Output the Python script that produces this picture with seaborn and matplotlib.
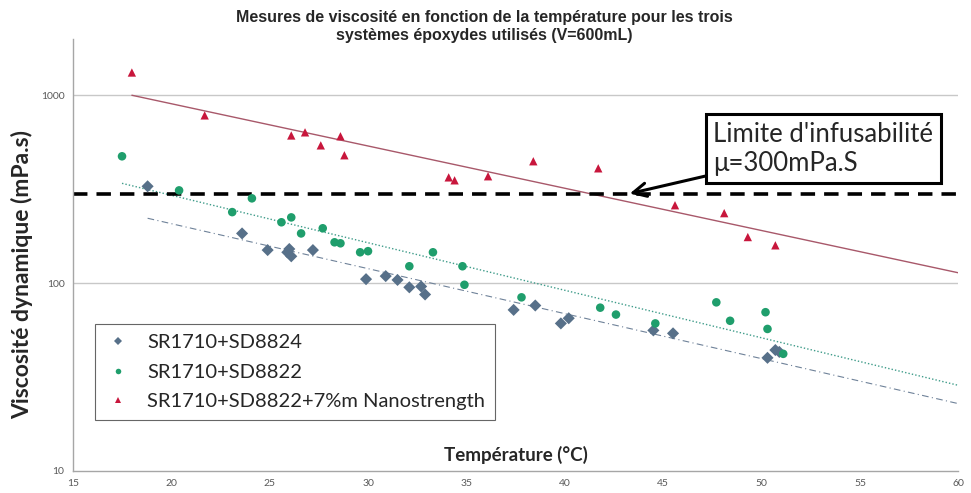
import numpy as np
import pandas as pd
import matplotlib
matplotlib.use("Agg")
import matplotlib.pyplot as plt
import seaborn as sns
from matplotlib.lines import Line2D

# =====================================
# DATA
# =====================================

t_8824 = [18.8, 23.6, 24.9, 25.9, 26.0, 26.1, 27.2, 29.9, 30.9, 31.5, 32.1,
          32.7, 32.9, 37.4, 38.5, 39.8, 40.2, 44.5, 45.5, 50.3, 50.7, 50.9]
v_8824 = [328, 184, 150, 146, 152, 139, 150, 105, 109, 104, 95,
          96, 87, 72, 76, 61, 65, 56, 54, 40, 44, 43]

t_8822 = [17.5, 20.4, 23.1, 24.1, 25.6, 26.1, 26.6, 27.7, 28.3, 28.6, 29.6,
          30.0, 32.1, 33.3, 34.8, 34.9, 37.8, 41.8, 42.6, 44.6, 47.7, 48.4,
          50.2, 50.3, 51.1]
v_8822 = [474, 312, 239, 283, 211, 224, 184, 196, 165, 163, 146,
          148, 123, 146, 123, 98, 84, 74, 68, 61, 79, 63,
          70, 57, 42]

t_nano = [18.0, 21.7, 26.1, 26.8, 27.6, 28.6, 28.8, 34.1, 34.4, 36.1, 38.4,
          41.7, 45.6, 48.1, 49.3, 50.7]
v_nano = [1325, 783, 612, 636, 542, 606, 480, 366, 353, 371, 446,
          409, 260, 236, 176, 159]

series_names = ["SR1710+SD8824", "SR1710+SD8822",
                "SR1710+SD8822+7%m Nanostrength"]

limit_value = 300
x_ticks = [15, 20, 25, 30, 35, 40, 45, 50, 55, 60]
y_ticks = [10, 100, 1000]

# =====================================
# STYLE
# =====================================

sns.set_style("white")
plt.rcParams["font.family"] = ["Lato", "DejaVu Sans"]

colors = {
    series_names[0]: "#577089",
    series_names[1]: "#1f9e6c",
    series_names[2]: "#c8163c",
}
markers = {series_names[0]: "D", series_names[1]: "o", series_names[2]: "^"}
sizes = {series_names[0]: 38, series_names[1]: 38, series_names[2]: 36}
trend_styles = {
    series_names[0]: dict(color="#6f8299", ls=(0, (6, 3, 1, 3)), lw=0.8),
    series_names[1]: dict(color="#3f9c8a", ls=(0, (1, 1.5)), lw=1.0),
    series_names[2]: dict(color="#a8586a", ls="-", lw=1.0),
}

df = pd.concat([
    pd.DataFrame({"T": t_8824, "V": v_8824, "serie": series_names[0]}),
    pd.DataFrame({"T": t_8822, "V": v_8822, "serie": series_names[1]}),
    pd.DataFrame({"T": t_nano, "V": v_nano, "serie": series_names[2]}),
])

# =====================================
# FIGURE
# =====================================

fig = plt.figure(figsize=(9.71, 4.93), dpi=100)
ax = fig.add_axes([0.075, 0.045, 0.912, 0.876])

ax.set_yscale("log")
ax.set_xlim(15, 60)
ax.set_ylim(10, 2000)

for y in [100, 1000]:
    ax.axhline(y, color="#c8c8c8", lw=1.0, zorder=0)

# exponential trend lines (Excel style), forecast up to 60 degC
for name in series_names:
    sub = df[df["serie"] == name]
    coef = np.polyfit(sub["T"], np.log10(sub["V"]), 1)
    xx = np.linspace(sub["T"].min(), 60, 100)
    ax.plot(xx, 10 ** np.polyval(coef, xx), zorder=1, **trend_styles[name])

for name in series_names:
    sns.scatterplot(
        data=df[df["serie"] == name],
        x="T",
        y="V",
        color=colors[name],
        marker=markers[name],
        s=sizes[name],
        edgecolor="none",
        ax=ax,
        zorder=3,
        legend=False,
    )

# infusability limit
ax.axhline(limit_value, color="black", lw=2.6, ls=(0, (4, 2.5)), zorder=2)

ax.annotate(
    "Limite d'infusabilité\nμ=300mPa.S",
    xy=(43.3, limit_value),
    xytext=(47.55, 520),
    ha="left",
    va="center",
    fontsize=18.5,
    linespacing=1.22,
    bbox=dict(boxstyle="square,pad=0.28", fc="white", ec="black", lw=2.2),
    arrowprops=dict(arrowstyle="->", color="black", lw=2.2,
                    mutation_scale=24, shrinkA=0, shrinkB=0),
    zorder=5,
)

# axes
ax.set_xticks(x_ticks)
ax.set_yticks(y_ticks)
ax.set_yticklabels([str(v) for v in y_ticks])
ax.yaxis.set_minor_locator(matplotlib.ticker.NullLocator())
ax.tick_params(axis="both", labelsize=7.5, colors="#595959", length=0, pad=6)

for side in ["top", "right"]:
    ax.spines[side].set_visible(False)
for side in ["left", "bottom"]:
    ax.spines[side].set_color("#a6a6a6")
    ax.spines[side].set_linewidth(1.0)

ax.set_xlabel("Température (°C)", fontsize=13.5, fontweight="bold")
ax.xaxis.set_label_coords(0.5, 0.057)
ax.set_ylabel("")

fig.text(0.023, 0.444, "Viscosité dynamique (mPa.s)", rotation=90,
         ha="center", va="center", fontsize=16.5, fontweight="bold")

fig.text(0.4985, 0.946,
         "Mesures de viscosité en fonction de la température pour les trois\n"
         "systèmes époxydes utilisés (V=600mL)",
         ha="center", va="center", fontsize=11.5, fontweight="bold",
         family=["Liberation Sans", "DejaVu Sans"], linespacing=1.25)

# legend
handles = [
    Line2D([], [], ls="none", marker=markers[n], color=colors[n],
           markersize=4, markeredgewidth=0)
    for n in series_names
]
leg = ax.legend(
    handles,
    series_names,
    loc="lower left",
    bbox_to_anchor=(0.025, 0.118),
    borderaxespad=0,
    fontsize=14.5,
    frameon=True,
    fancybox=False,
    edgecolor="#404040",
    handletextpad=0.8,
    borderpad=0.5,
    labelspacing=0.6,
    handlelength=1.3,
)
leg.get_frame().set_linewidth(0.8)

plt.savefig("out.png", dpi=100)
